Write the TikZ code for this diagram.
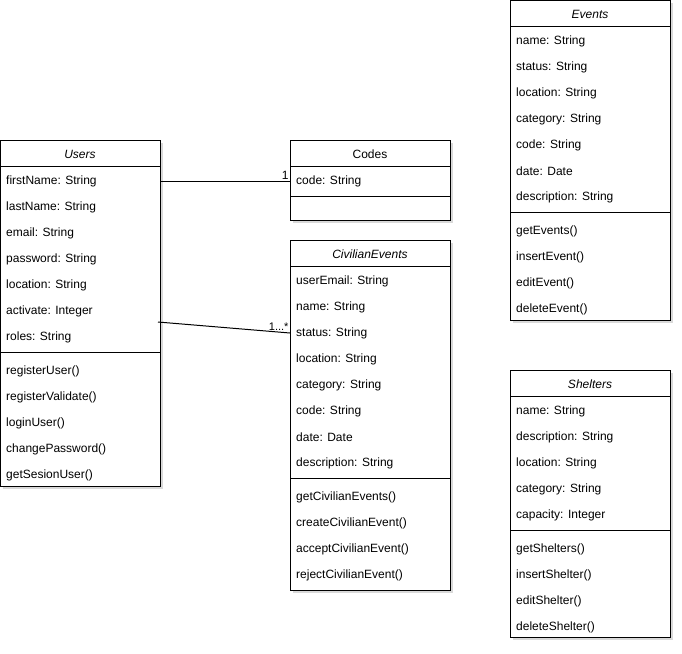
\documentclass[tikz,border=0pt]{standalone}
\usepackage{fontspec}
\setmainfont{Liberation Sans}
\usetikzlibrary{shadows,calc}
\begin{document}
\begin{tikzpicture}[x=1pt,y=-1pt,
  box/.style={draw, line width=1pt, fill=white, anchor=north west, inner sep=0pt, outer sep=0pt,
    drop shadow={opacity=0.3, shadow xshift=2.5pt, shadow yshift=-2.5pt}},
  sep/.style={line width=1pt},
  attr/.style={anchor=west, inner sep=0pt, yshift=-1pt, font=\fontsize{12}{14}\selectfont},
  ttl/.style={inner sep=0pt, yshift=-1pt, font=\itshape\fontsize{12}{14}\selectfont},
  ttlup/.style={inner sep=0pt, yshift=-1pt, font=\fontsize{12}{14}\selectfont},
  conn/.style={line width=1pt},
  mult/.style={inner sep=1pt, font=\fontsize{12}{13}\selectfont}]
\useasboundingbox (0,0) rectangle (682,653);

% Users
\node[box, minimum width=160, minimum height=346] (users) at (0,140) {};
\draw[sep] (0,166) -- (160,166);
\node[ttl] (usersT) at (80,153) {Users};
\foreach \t [count=\i from 0] in {firstName: String, lastName: String, email: String, password: String, location: String, activate: Integer, roles: String}
  \node[attr] (u\i) at (6,180+26*\i) {\t};
\draw[sep] (0,352) -- (160,352);
\foreach \t [count=\i from 0] in {registerUser(), registerValidate(), loginUser(), changePassword(), getSesionUser()}
  \node[attr] (um\i) at (6,370+26*\i) {\t};

% Codes
\node[box, minimum width=160, minimum height=80] (codes) at (290,140) {};
\draw[sep] (290,166) -- (450,166);
\node[ttlup] (codesT) at (370,153) {Codes};
\node[attr] (c0) at (296,180) {code: String};
\draw[sep] (290,196) -- (450,196);

% CivilianEvents
\node[box, minimum width=160, minimum height=350] (civ) at (290,240) {};
\draw[sep] (290,266) -- (450,266);
\node[ttl] (civT) at (370,253) {CivilianEvents};
\foreach \t [count=\i from 0] in {userEmail: String, name: String, status: String, location: String, category: String, code: String, date: Date, description: String}
  \node[attr] (ce\i) at (296,280+26*\i) {\t};
\draw[sep] (290,478) -- (450,478);
\foreach \t [count=\i from 0] in {getCivilianEvents(), createCivilianEvent(), acceptCivilianEvent(), rejectCivilianEvent()}
  \node[attr] (cm\i) at (296,496+26*\i) {\t};

% Events
\node[box, minimum width=160, minimum height=320] (events) at (510,0) {};
\draw[sep] (510,26) -- (670,26);
\node[ttl] (eventsT) at (590,13) {Events};
\foreach \t [count=\i from 0] in {name: String, status: String, location: String, category: String, code: String, date: Date, description: String}
  \node[attr] (e\i) at (516,40+26*\i) {\t};
\draw[sep] (510,212) -- (670,212);
\foreach \t [count=\i from 0] in {getEvents(), insertEvent(), editEvent(), deleteEvent()}
  \node[attr] (em\i) at (516,230+26*\i) {\t};

% Shelters
\node[box, minimum width=160, minimum height=267] (shelters) at (510,370) {};
\draw[sep] (510,396) -- (670,396);
\node[ttl] (sheltersT) at (590,383) {Shelters};
\foreach \t [count=\i from 0] in {name: String, description: String, location: String, category: String, capacity: Integer}
  \node[attr] (s\i) at (516,410+26*\i) {\t};
\draw[sep] (510,530) -- (670,530);
\foreach \t [count=\i from 0] in {getShelters(), insertShelter(), editShelter(), deleteShelter()}
  \node[attr] (sm\i) at (516,548+26*\i) {\t};

% Connectors
\draw[conn] (users.east |- u0) -- (codes.west |- c0)
  node[mult, pos=1, anchor=south east] {1};
\coordinate (uc) at (158,322);
\draw[conn] (uc) -- (civ.west |- ce2)
  node[mult, pos=1, anchor=south east, yshift=1pt] {\fontsize{11}{12}\selectfont 1...*};
\end{tikzpicture}
\end{document}
